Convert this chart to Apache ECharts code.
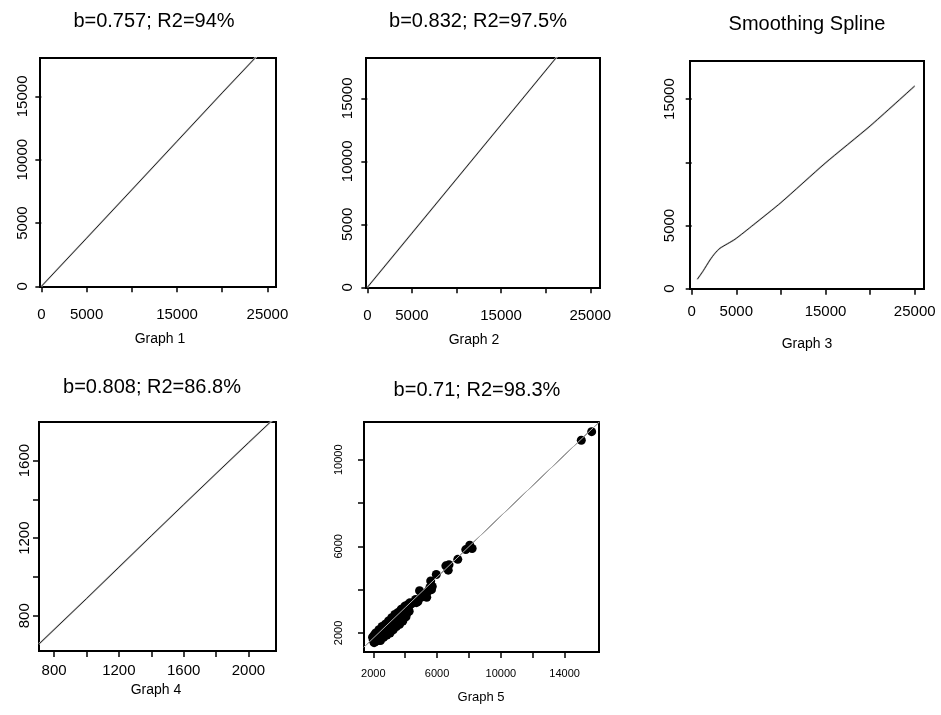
<!DOCTYPE html>
<html>
<head>
<meta charset="utf-8">
<script src="https://cdn.jsdelivr.net/npm/echarts@6/dist/echarts.min.js"></script>
<style>
html,body{margin:0;padding:0;background:#fff;}
#chart{width:941px;height:715px;}
</style>
</head>
<body>
<div id="chart"></div>
<script>
// ---- Data ----
const titles = ['b=0.757; R2=94%', 'b=0.832; R2=97.5%', 'Smoothing Spline', 'b=0.808; R2=86.8%', 'b=0.71; R2=98.3%'];
const captions = ['Graph 1', 'Graph 2', 'Graph 3', 'Graph 4', 'Graph 5'];

// Graph 1
const g1X = [0, 5000, 10000, 15000, 20000, 23600, 25000];
const g1Y = [0, 3800, 7620, 11450, 15280, 18000, 19050];
// Graph 2
const g2X = [0, 5000, 10000, 15000, 21150, 23000];
const g2Y = [0, 4300, 8600, 12900, 18200, 19800];
// Graph 3 (smoothing spline)
const g3X = [630, 1300, 2050, 2610, 3170, 4850, 6900, 10000, 14950, 20000, 25000];
const g3Y = [744, 1424, 2270, 2800, 3196, 3908, 5040, 6805, 9920, 12870, 16035];
// Graph 4
const g4X = [707, 1000, 1200, 1400, 1600, 1800, 2000, 2170];
const g4Y = [654, 888, 1050, 1212, 1373, 1533, 1692, 1826];
// Graph 5 fitted line
const g5LineX = [1400, 4000, 6000, 8000, 10000, 12000, 14000, 16200];
const g5LineY = [1340, 3170, 4580, 5990, 7400, 8810, 10220, 11760];
// Graph 5 points
const g5X = [1950, 2000, 2050, 2100, 2150, 2200, 2250, 2300, 2350, 2400, 2450, 2500, 2550, 2600, 2650, 2700, 2750, 2800, 2850, 2900,
             2950, 3000, 3050, 3100, 3150, 3200, 3250, 3300, 3350, 3400, 3450, 3500, 3550, 3600, 3650, 3700, 3750, 3800, 3850, 3900,
             3950, 4000, 4050, 4100, 4150, 4200, 4300, 4650, 4800, 4900, 5100, 5250, 5400, 5550, 5600, 5700, 5950, 6550, 6700, 6750,
             7300, 7800, 8050, 8200, 15050, 15700,
             2050, 2250, 2450, 2650, 2850, 3050, 3250, 3450, 3650, 3850, 4050, 2150, 2350, 2550, 2750, 2950, 3150, 3350, 3550, 3750, 3950,
             4250, 4400, 4700, 5000, 5350, 5650];
const g5Y = [1800, 1650, 1900, 1750, 1600, 1950, 1800, 1650, 2050, 1900, 1750, 2150, 2000, 1850, 2200, 2050, 1900, 2300, 2150, 2000,
             2400, 2250, 2100, 2500, 2350, 2200, 2600, 2450, 2300, 2750, 2550, 2400, 2850, 2650, 2500, 3000, 2800, 2650, 3100, 2900,
             2750, 3250, 3050, 2900, 3300, 3150, 3400, 3550, 3450, 3950, 3700, 3800, 3900, 4100, 4400, 4150, 4700, 5100, 4900, 5150,
             5400, 5850, 6050, 5900, 10900, 11300,
             1550, 1700, 1650, 1800, 1900, 2000, 2150, 2300, 2400, 2550, 2750, 2000, 2150, 2300, 2400, 2550, 2700, 2850, 2950, 3100, 3200,
             3000, 3350, 3400, 3650, 3650, 4000];

// Tick values and tick labels
const g1XTicks = [0, 5000, 10000, 15000, 20000, 25000];
const g1XLabels = [0, 5000, 15000, 25000];
const g1YTicks = [0, 5000, 10000, 15000];
const g1YLabels = [0, 5000, 10000, 15000];
const g2XTicks = [0, 5000, 10000, 15000, 20000, 25000];
const g2XLabels = [0, 5000, 15000, 25000];
const g2YTicks = [0, 5000, 10000, 15000];
const g2YLabels = [0, 5000, 10000, 15000];
const g3XTicks = [0, 5000, 10000, 15000, 20000, 25000];
const g3XLabels = [0, 5000, 15000, 25000];
const g3YTicks = [0, 5000, 10000, 15000];
const g3YLabels = [0, 5000, 15000];
const g4XTicks = [800, 1000, 1200, 1400, 1600, 1800, 2000];
const g4XLabels = [800, 1200, 1600, 2000];
const g4YTicks = [800, 1000, 1200, 1400, 1600];
const g4YLabels = [800, 1200, 1600];
const g5XTicks = [2000, 4000, 6000, 8000, 10000, 12000, 14000];
const g5XLabels = [2000, 6000, 10000, 14000];
const g5YTicks = [2000, 4000, 6000, 8000, 10000];
const g5YLabels = [2000, 6000, 10000];

// ---- Layout ----
const FONT = '"Liberation Sans", Arial, Helvetica, sans-serif';
const panels = [
  {grid:{left:40, top:58, width:236, height:229}, xr:[-150, 25950], yr:[-50, 18030],
   xt:g1XTicks, xl:g1XLabels, yt:g1YTicks, yl:g1YLabels, fs:15, xm:20, ym:10, tx:154, ty:21, cx:160, cy:339, cf:14},
  {grid:{left:366, top:58, width:234, height:230}, xr:[-150, 26090], yr:[-50, 18200],
   xt:g2XTicks, xl:g2XLabels, yt:g2YTicks, yl:g2YLabels, fs:15, xm:20, ym:11, tx:478, ty:21, cx:474, cy:340, cf:14},
  {grid:{left:690, top:61, width:234, height:228}, xr:[-190, 26040], yr:[-25, 18010],
   xt:g3XTicks, xl:g3XLabels, yt:g3YTicks, yl:g3YLabels, fs:15, xm:15, ym:13, tx:807, ty:24, cx:807, cy:344, cf:14},
  {grid:{left:39, top:422, width:237, height:229}, xr:[707, 2170], yr:[618, 1799],
   xt:g4XTicks, xl:g4XLabels, yt:g4YTicks, yl:g4YLabels, fs:15, xm:12, ym:7, tx:152, ty:387, cx:156, cy:690, cf:14},
  {grid:{left:364, top:422, width:235, height:230}, xr:[1415, 16160], yr:[1120, 11745],
   xt:g5XTicks, xl:g5XLabels, yt:g5YTicks, yl:g5YLabels, fs:11, xm:16, ym:20, tx:477, ty:390, cx:481, cy:697, cf:13}
];

const zip = (a, b) => a.map((v, i) => [v, b[i]]);

const grids = [], xAxes = [], yAxes = [], graphics = [];
panels.forEach((p, i) => {
  grids.push(Object.assign({show:true, borderColor:'#000', borderWidth:2, backgroundColor:'#fff', containLabel:false}, p.grid));
  const common = {
    type:'value', gridIndex:i, scale:true,
    splitLine:{show:false}, axisLine:{show:false},
    axisTick:{show:true, length:6, lineStyle:{color:'#000', width:1.5}},
  };
  xAxes.push(Object.assign({}, common, {
    min:p.xr[0], max:p.xr[1],
    axisTick:Object.assign({}, common.axisTick, {customValues:p.xt}),
    axisLabel:{customValues:p.xl, formatter:v => String(v), color:'#000', fontSize:p.fs, fontFamily:FONT, margin:p.xm}
  }));
  yAxes.push(Object.assign({}, common, {
    min:p.yr[0], max:p.yr[1],
    axisTick:Object.assign({}, common.axisTick, {customValues:p.yt}),
    axisLabel:{customValues:p.yl, formatter:v => String(v), color:'#000', fontSize:p.fs, fontFamily:FONT, margin:p.ym, rotate:90}
  }));
  graphics.push({type:'text', x:p.tx, y:p.ty, style:{text:titles[i], fill:'#000', font:'20px ' + FONT, textAlign:'center', textVerticalAlign:'middle'}});
  graphics.push({type:'text', x:p.cx, y:p.cy, style:{text:captions[i], fill:'#000', font:p.cf + 'px ' + FONT, textAlign:'center', textVerticalAlign:'middle'}});
});

function linePair(idx, xs, ys, smooth) {
  return [
    {type:'line', xAxisIndex:idx, yAxisIndex:idx, data:zip(xs, ys), showSymbol:false, smooth:smooth, silent:true,
     lineStyle:{color:'#c8c8c8', width:1.8}, z:2},
    {type:'line', xAxisIndex:idx, yAxisIndex:idx, data:zip(xs, ys), showSymbol:false, smooth:smooth, silent:true,
     lineStyle:{color:'#111', width:0.9}, z:3}
  ];
}

const series = [].concat(
  linePair(0, g1X, g1Y, false),
  linePair(1, g2X, g2Y, false),
  linePair(2, g3X, g3Y, 0.2),
  linePair(3, g4X, g4Y, false),
  [
    {type:'line', xAxisIndex:4, yAxisIndex:4, data:zip(g5LineX, g5LineY), showSymbol:false, silent:true,
     lineStyle:{color:'#222', width:1}, z:2},
    {type:'scatter', xAxisIndex:4, yAxisIndex:4, data:zip(g5X, g5Y), symbol:'circle', symbolSize:9,
     itemStyle:{color:'#000', opacity:1}, silent:true, z:3},
    {type:'line', xAxisIndex:4, yAxisIndex:4, data:zip(g5LineX, g5LineY), showSymbol:false, silent:true,
     lineStyle:{color:'#b0b0b0', width:1}, z:4}
  ]
);

const chart = echarts.init(document.getElementById('chart'), null, {renderer:'canvas'});
chart.setOption({
  animation:false,
  backgroundColor:'#fff',
  grid:grids,
  xAxis:xAxes,
  yAxis:yAxes,
  series:series,
  graphic:graphics
});
</script>
</body>
</html>
